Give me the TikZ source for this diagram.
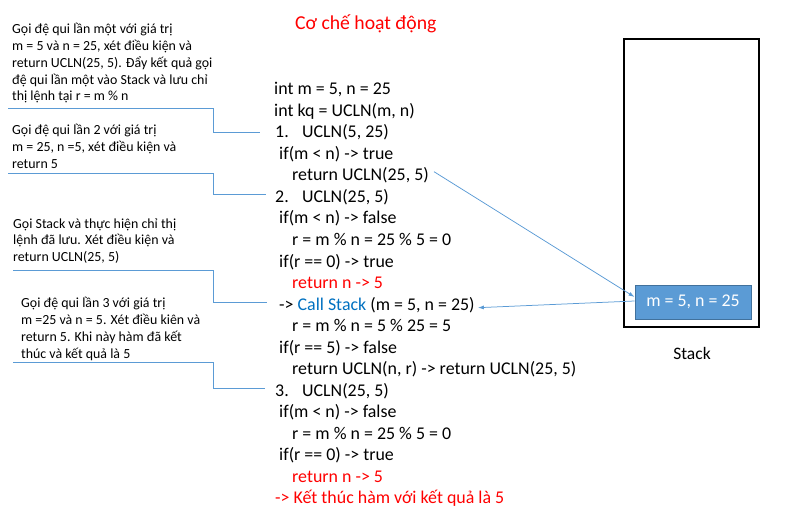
\documentclass[tikz,border=0pt]{standalone}
\usepackage{fontspec}
\setmainfont{Carlito}
\usetikzlibrary{arrows.meta}
\definecolor{lineblue}{HTML}{5B9BD5}
\definecolor{boxedge}{HTML}{41719C}
\definecolor{callblue}{HTML}{0070C0}
\definecolor{codered}{HTML}{FF0000}
\newcommand{\stepno}[1]{\makebox[27pt][l]{#1}}

\begin{document}
\begin{tikzpicture}[x=1pt, y=-1pt,
	codeline/.style={anchor=base west, inner sep=0pt, font=\fontsize{17.9}{21.5}\selectfont},
	notetext/.style={anchor=base west, inner sep=0pt, align=left, font=\fontsize{13.9}{16.7}\selectfont},
	guideline/.style={lineblue, line width=0.9pt},
	pushline/.style={lineblue, line width=0.75pt, -{Latex[length=6pt,width=4pt]}}]
		\useasboundingbox (0,0) rectangle (789,521);

		% title
		\node[anchor=base west, inner sep=0pt, text=codered, font=\fontsize{19.7}{23}\selectfont] (title) at (295,30) {Cơ chế hoạt động};

		% notes on the left (placed by their last line)
		\node[notetext] (n1) at (12,100.8) {Gọi đệ qui lần một với giá trị\\m = 5 và n = 25, xét điều kiện và\\return UCLN(25, 5). Đẩy kết quả gọi\\đệ qui lần một vào Stack và lưu chỉ\\thị lệnh tại r = m \% n};
		\node[notetext] (n2) at (12,168.4) {Gọi đệ qui lần 2 với giá trị\\m = 25, n =5, xét điều kiện và\\return 5};
		\node[notetext] (n3) at (13,261.4) {Gọi Stack và thực hiện chỉ thị\\lệnh đã lưu. Xét điều kiện và\\return UCLN(25, 5)};
		\node[notetext] (n4) at (21,358) {Gọi đệ qui lần 3 với giá trị\\m =25 và n = 5. Xét điều kiên và\\return 5. Khi này hàm đã kết\\thúc và kết quả là 5};

		% code trace
		\node[codeline] (c1) at (274,95) {int m = 5, n = 25};
		\node[codeline] (c2) at (274,116.5) {int kq = UCLN(m, n)};
		\node[codeline] (c3) at (275,138) {\stepno{1.}UCLN(5, 25)};
		\node[codeline] (c4) at (279,159.5) {if(m < n) -> true};
		\node[codeline] (c5) at (292,181) {return UCLN(25, 5)};
		\node[codeline] (c6) at (275,202.5) {\stepno{2.}UCLN(25, 5)};
		\node[codeline] (c7) at (279,224) {if(m < n) -> false};
		\node[codeline] (c8) at (292,245.5) {r = m \% n = 25 \% 5 = 0};
		\node[codeline] (c9) at (279,267) {if(r == 0) -> true};
		\node[codeline, text=codered] (c10) at (292,288.5) {return n -> 5};
		\node[codeline] (c11) at (279,310) {-> \textcolor{callblue}{Call Stack} (m = 5, n = 25)};
		\node[codeline] (c12) at (292,331.5) {r = m \% n = 5 \% 25 = 5};
		\node[codeline] (c13) at (279,353) {if(r == 5) -> false};
		\node[codeline] (c14) at (292,374.5) {return UCLN(n, r) -> return UCLN(25, 5)};
		\node[codeline] (c15) at (275,396) {\stepno{3.}UCLN(25, 5)};
		\node[codeline] (c16) at (279,417.5) {if(m < n) -> false};
		\node[codeline] (c17) at (292,439) {r = m \% n = 25 \% 5 = 0};
		\node[codeline] (c18) at (279,460.5) {if(r == 0) -> true};
		\node[codeline, text=codered] (c19) at (292,482) {return n -> 5};
		\node[codeline, text=codered] (c20) at (275,503.5) {-> Kết thúc hàm với kết quả là 5};

		% stack
		\node[draw, line width=1.4pt, minimum width=135pt, minimum height=288pt, inner sep=0pt] (stack) at (691.5,183) {};
		\node[fill=lineblue, draw=boxedge, line width=0.9pt, minimum width=116pt, minimum height=34pt, inner sep=0pt, text=white, font=\fontsize{17.9}{21.5}\selectfont] (frame) at (693,302) {m = 5, n = 25};
		\node[anchor=base, inner sep=0pt, font=\fontsize{17.5}{21}\selectfont] (stacklabel) at (692,359) {Stack};

		% guide lines from the notes
		\coordinate (bend) at (213,0);
		\coordinate (g1) at (8,108);
		\coordinate (g2) at (8,173);
		\coordinate (g3) at (13,270);
		\coordinate (g4) at (13,362);
		\draw[guideline] (g1) -- (g1 -| bend) |- ([xshift=-15pt]c3.west);
		\draw[guideline] (g2) -- (g2 -| bend) |- ([xshift=-9pt,yshift=2.5pt]c6.west);
		\draw[guideline] (g3) -- (g3 -| bend) |- ([xshift=-12pt,yshift=2pt]c11.west);
		\draw[guideline] (g4) -- (g4 -| bend) |- ([xshift=-10pt,yshift=2pt]c15.west);

		% push and pop
		\draw[pushline] ([xshift=5pt,yshift=4pt]c5.east) -- ([yshift=5pt]frame.west);
		\draw[pushline] ([yshift=1pt]frame.west) -- ([xshift=3pt,yshift=-3pt]c11.east);
	\end{tikzpicture}
\end{document}
